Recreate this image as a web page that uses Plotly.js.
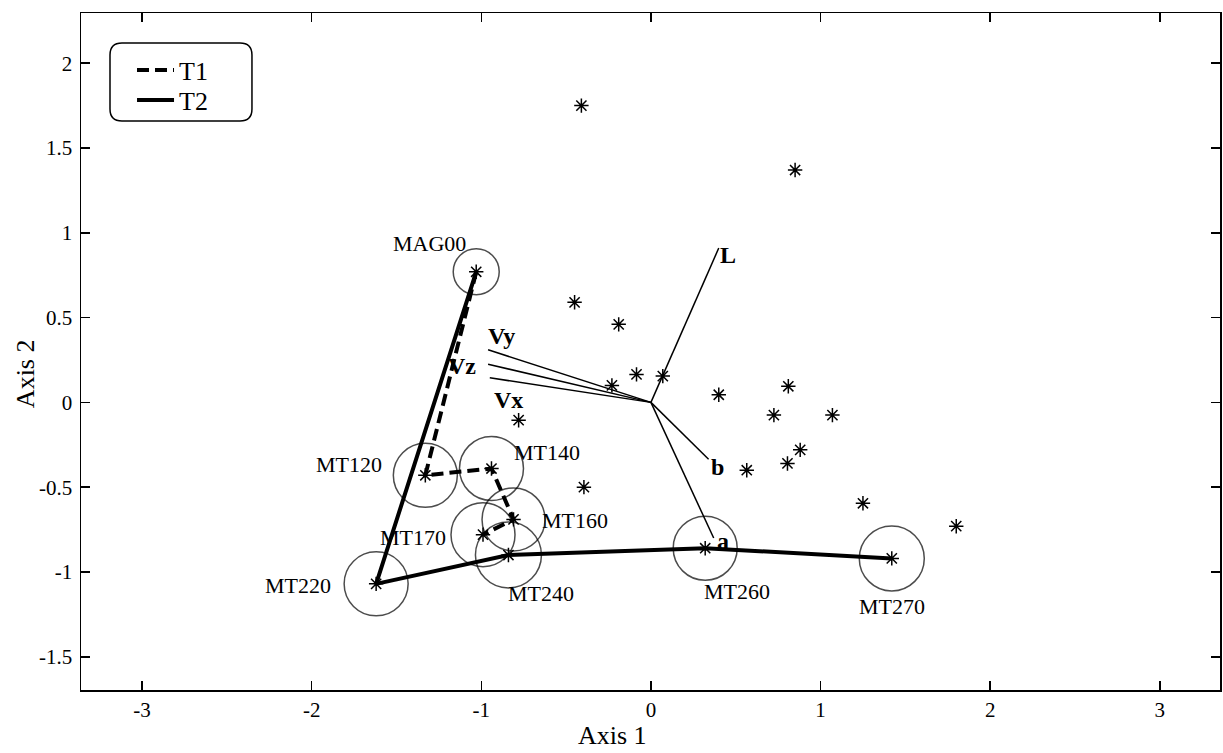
<!DOCTYPE html>
<html>
<head>
<meta charset="utf-8">
<script src="https://cdn.plot.ly/plotly-3.0.1.min.js"></script>
<style>html,body{margin:0;padding:0;background:#fff;}#chart{width:1223px;height:753px;}</style>
</head>
<body>
<div id="chart"></div>
<script>
// ---- data ----
var stationNames = ['MAG00','MT120','MT140','MT160','MT170','MT220','MT240','MT260','MT270'];
var stationX     = [-1.03, -1.33, -0.94, -0.81, -0.99, -1.62, -0.84, 0.32, 1.42];
var stationY     = [ 0.77, -0.43, -0.39, -0.69, -0.78, -1.07, -0.90, -0.86, -0.92];

var otherX = [-0.41, 0.85, -0.45, -0.19, -0.23, -0.085, 0.07, 0.40, 0.81, -0.78, 0.725, 1.07, 0.88, 0.805, 0.565, -0.395, 1.25, 1.80];
var otherY = [ 1.75, 1.37,  0.59,  0.46,  0.10,  0.165, 0.155, 0.045, 0.095, -0.105, -0.075, -0.075, -0.28, -0.36, -0.40, -0.50, -0.595, -0.73];

var loadNames = ['L', 'Vy', 'Vz', 'Vx', 'b', 'a'];
var loadX     = [0.40, -0.96, -0.96, -0.95, 0.34, 0.37];
var loadY     = [0.91,  0.31, 0.225, 0.145, -0.335, -0.80];

var pathT1 = ['MAG00','MT120','MT140','MT160','MT170'];
var pathT2 = ['MAG00','MT220','MT240','MT260','MT270'];

var xTicks = [-3, -2, -1, 0, 1, 2, 3];
var yTicks = [-1.5, -1, -0.5, 0, 0.5, 1, 1.5, 2];

// ---- styles ----
var FONT = 'Liberation Serif, Times New Roman, serif';
var circleSize = {MAG00: 46, MT120: 64, MT140: 64, MT160: 63, MT170: 64, MT220: 64, MT240: 66, MT260: 64, MT270: 65};
var stationLabelShift = {
  MAG00: [-47, 28], MT120: [-76, 11], MT140: [56, 16], MT160: [61, -1], MT170: [-70, -3],
  MT220: [-78, -2], MT240: [33, -38], MT260: [32, -43], MT270: [0, -48]
};
var loadLabelShift = { L: [9, -7], Vy: [13, 14], Vz: [-26, -2], Vx: [19, -22], b: [9, -8], a: [9, -3] };

function idx(n){ return stationNames.indexOf(n); }
function pathXY(p){ return { x: p.map(function(n){return stationX[idx(n)];}), y: p.map(function(n){return stationY[idx(n)];}) }; }

var traces = [];
// circles
traces.push({
  type: 'scatter', mode: 'markers', x: stationX, y: stationY, showlegend: false, hoverinfo: 'skip',
  marker: { symbol: 'circle-open', size: stationNames.map(function(n){return circleSize[n];}), color: '#000', line: { color: '#000', width: 1.5 } }
});
// loading vectors
var vx = [], vy = [];
for (var i = 0; i < loadNames.length; i++) { vx.push(0, loadX[i], null); vy.push(0, loadY[i], null); }
traces.push({ type: 'scatter', mode: 'lines', x: vx, y: vy, showlegend: false, hoverinfo: 'skip', line: { color: '#000', width: 1.5 } });
// T1, T2 paths
var p1 = pathXY(pathT1), p2 = pathXY(pathT2);
traces.push({ type: 'scatter', mode: 'lines', name: 'T1', legend: 'legend', x: p1.x, y: p1.y, line: { color: '#000', width: 4, dash: '12px,6px' } });
traces.push({ type: 'scatter', mode: 'lines', name: 'T2', legend: 'legend2', x: p2.x, y: p2.y, line: { color: '#000', width: 4 } });
// stars
var starStyle = { symbol: 'asterisk-open', size: 12, color: '#000', line: { color: '#000', width: 1.5 } };
traces.push({ type: 'scatter', mode: 'markers', x: otherX, y: otherY, showlegend: false, hoverinfo: 'skip', marker: starStyle });
traces.push({ type: 'scatter', mode: 'markers', x: stationX, y: stationY, showlegend: false, hoverinfo: 'skip', marker: starStyle });

var annotations = [];
stationNames.forEach(function(n, i){
  annotations.push({ x: stationX[i], y: stationY[i], xref: 'x', yref: 'y', text: n, showarrow: false,
    xanchor: 'center', yanchor: 'middle',
    xshift: stationLabelShift[n][0], yshift: stationLabelShift[n][1], font: { family: FONT, size: 22, color: '#000' } });
});
loadNames.forEach(function(n, i){
  annotations.push({ x: loadX[i], y: loadY[i], xref: 'x', yref: 'y', text: '<b>' + n + '</b>', showarrow: false,
    xanchor: 'center', yanchor: 'middle',
    xshift: loadLabelShift[n][0], yshift: loadLabelShift[n][1], font: { family: FONT, size: 24, color: '#000' } });
});
// axis titles
annotations.push({ xref: 'paper', yref: 'paper', x: 0.4662, y: -0.0665, xanchor: 'center', yanchor: 'middle', text: 'Axis 1', showarrow: false, font: { family: FONT, size: 26, color: '#000' } });
annotations.push({ xref: 'paper', yref: 'paper', x: -0.0492, y: 0.468, xanchor: 'center', yanchor: 'middle', text: 'Axis 2', textangle: -90, showarrow: false, font: { family: FONT, size: 26, color: '#000' } });

// rounded legend box (paper coords)
var bx0 = 0.02546, bx1 = 0.1501, by0 = 0.8405, by1 = 0.9557, rx = 0.0105, ry = 0.0177;
var boxPath = 'M' + (bx0 + rx) + ',' + by1 + ' L' + (bx1 - rx) + ',' + by1 + ' Q' + bx1 + ',' + by1 + ' ' + bx1 + ',' + (by1 - ry) +
  ' L' + bx1 + ',' + (by0 + ry) + ' Q' + bx1 + ',' + by0 + ' ' + (bx1 - rx) + ',' + by0 +
  ' L' + (bx0 + rx) + ',' + by0 + ' Q' + bx0 + ',' + by0 + ' ' + bx0 + ',' + (by0 + ry) +
  ' L' + bx0 + ',' + (by1 - ry) + ' Q' + bx0 + ',' + by1 + ' ' + (bx0 + rx) + ',' + by1 + ' Z';

var axisCommon = {
  showgrid: false, zeroline: false, showline: true, linecolor: '#000', linewidth: 1.5, mirror: 'ticks',
  ticks: 'inside', ticklen: 9, tickwidth: 1.5, tickcolor: '#000',
  tickfont: { family: FONT, size: 21, color: '#000' }
};
var legendCommon = { xanchor: 'left', yanchor: 'middle', bgcolor: 'rgba(0,0,0,0)', borderwidth: 0,
  font: { family: FONT, size: 26, color: '#000' }, itemwidth: 37 };
var layout = {
  width: 1223, height: 753,
  margin: { l: 81, r: 3, t: 13, b: 63 },
  paper_bgcolor: '#fff', plot_bgcolor: '#fff',
  xaxis: Object.assign({}, axisCommon, { range: [-3.36, 3.355], tickvals: xTicks, ticktext: xTicks.map(String), ticklabelstandoff: 0 }),
  yaxis: Object.assign({}, axisCommon, { range: [-1.696, 2.296], tickvals: yTicks, ticktext: yTicks.map(String), ticklabelstandoff: 3 }),
  showlegend: true,
  legend: Object.assign({}, legendCommon, { x: 0.0448, y: 0.9158 }),
  legend2: Object.assign({}, legendCommon, { x: 0.0448, y: 0.8715 }),
  shapes: [{ type: 'path', xref: 'paper', yref: 'paper', path: boxPath, line: { color: '#000', width: 1.5 }, fillcolor: 'rgba(0,0,0,0)' }],
  annotations: annotations,
  hovermode: false
};
Plotly.newPlot('chart', traces, layout, { displayModeBar: false, staticPlot: true });
</script>
</body>
</html>
